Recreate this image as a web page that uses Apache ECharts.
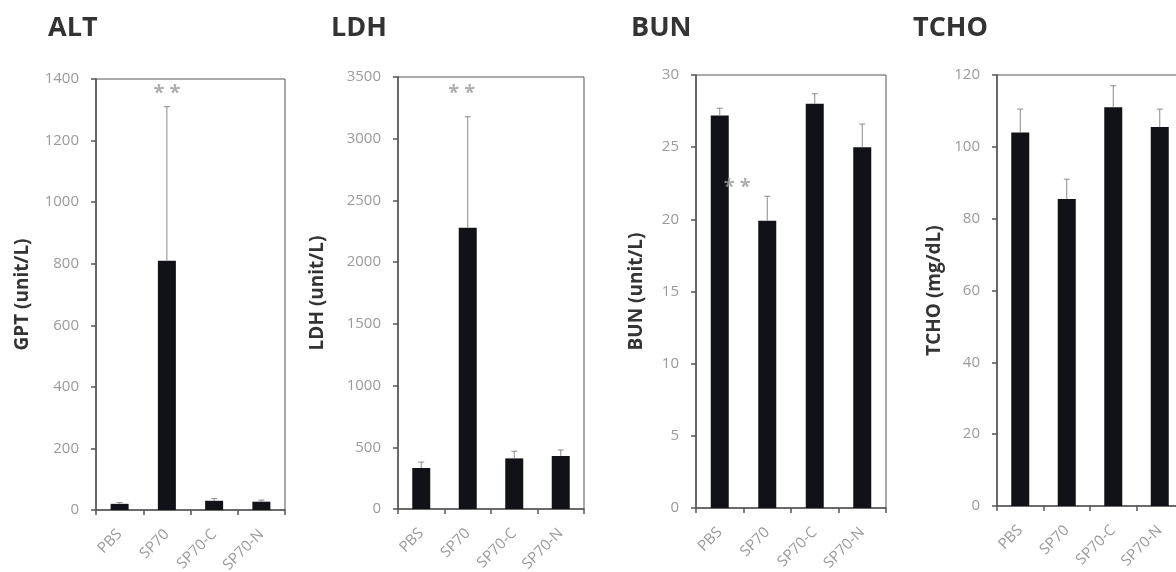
<!DOCTYPE html>
<html>
<head>
<meta charset="utf-8">
<script src="https://cdn.jsdelivr.net/npm/echarts@6/dist/echarts.min.js"></script>
<style>
html, body { margin: 0; padding: 0; background: #fff; }
#main { width: 1176px; height: 572px; }
</style>
</head>
<body>
<div id="main"></div>
<script>
// categories shared by all four panels
var categories = ['PBS', 'SP70', 'SP70-C', 'SP70-N'];

// ALT (GPT)
var altMean = [20, 810, 30, 27];
var altErr = [4, 500, 7, 5];
var altTicks = [0, 1400, 200];
// LDH
var ldhMean = [332, 2278, 410, 430];
var ldhErr = [48, 900, 58, 48];
var ldhTicks = [0, 3500, 500];
// BUN
var bunMean = [27.2, 19.9, 28.0, 25.0];
var bunErr = [0.5, 1.7, 0.7, 1.6];
var bunTicks = [0, 30, 5];
// TCHO
var tchoMean = [104, 85.5, 111, 105.5];
var tchoErr = [6.5, 5.5, 6, 5];
var tchoTicks = [0, 120, 20];

// significance marks: [category index, height]
var altStar = [1, 1355];
var ldhStar = [1, 3370];
var bunStar = [1, 22.2];

var titles = ['ALT', 'LDH', 'BUN', 'TCHO'];
var yNames = ['GPT (unit/L)', 'LDH (unit/L)', 'BUN (unit/L)', 'TCHO (mg/dL)'];

var panels = [
    {mean: altMean, err: altErr, ticks: altTicks, star: altStar,
     grid: {left: 96, top: 79, width: 189, height: 431}, titleLeft: 43, nameGap: 64, starOffset: [0, 0]},
    {mean: ldhMean, err: ldhErr, ticks: ldhTicks, star: ldhStar,
     grid: {left: 398, top: 77, width: 186, height: 432}, titleLeft: 326, nameGap: 71, starOffset: [-6, 0]},
    {mean: bunMean, err: bunErr, ticks: bunTicks, star: bunStar,
     grid: {left: 696, top: 75, width: 190, height: 433}, titleLeft: 626, nameGap: 50, starOffset: [-30, 0]},
    {mean: tchoMean, err: tchoErr, ticks: tchoTicks, star: null,
     grid: {left: 997, top: 75, width: 186, height: 431}, titleLeft: 908, nameGap: 53, starOffset: [0, 0]}
];

var FONT = '"Open Sans", "Noto Sans", sans-serif';
var BAR = '#111217';
var GRAY = '#9a9a9a';
var AXIS = '#555';

//误差线
function errorBar(params, api) {
    var x = api.value(0);
    var mean = api.value(1);
    var err = api.value(2);
    var top = api.coord([x, mean + err]);
    var base = api.coord([x, mean]);
    return {
        type: 'group',
        children: [
            {type: 'line', shape: {x1: top[0], y1: top[1], x2: base[0], y2: base[1]},
             style: {stroke: '#8a8a8a', lineWidth: 1}},
            {type: 'line', shape: {x1: top[0] - 3, y1: top[1], x2: top[0] + 3, y2: top[1]},
             style: {stroke: '#8a8a8a', lineWidth: 1}}
        ]
    };
}

var option = {
    backgroundColor: '#fff',
    animation: false,
    title: [],
    grid: [],
    xAxis: [],
    yAxis: [],
    series: []
};

panels.forEach(function (p, i) {
    option.title.push({
        text: titles[i],
        left: p.titleLeft,
        top: 10,
        textStyle: {fontFamily: FONT, fontSize: 27, fontWeight: 'bold', color: '#333'}
    });
    option.grid.push({
        left: p.grid.left, top: p.grid.top, width: p.grid.width, height: p.grid.height,
        outerBoundsMode: 'none',
        show: true, borderColor: AXIS, borderWidth: 1, backgroundColor: 'transparent'
    });
    option.xAxis.push({
        type: 'category',
        gridIndex: i,
        data: categories,
        axisLine: {lineStyle: {color: AXIS, width: 1.5}},
        axisTick: {show: true, length: 5, lineStyle: {color: AXIS, width: 1.5}},
        axisLabel: {rotate: 45, color: GRAY, fontFamily: FONT, fontSize: 15, margin: 22}
    });
    option.yAxis.push({
        type: 'value',
        gridIndex: i,
        min: p.ticks[0],
        max: p.ticks[1],
        interval: p.ticks[2],
        name: yNames[i],
        nameLocation: 'middle',
        nameGap: p.nameGap,
        nameTextStyle: {fontFamily: FONT, fontSize: 19, fontWeight: 'bold', color: '#333'},
        axisLine: {show: true, lineStyle: {color: AXIS, width: 1.5}},
        axisTick: {show: true, length: 5, lineStyle: {color: AXIS, width: 1.5}},
        axisLabel: {
            color: GRAY, fontFamily: FONT, fontSize: 15, margin: 17,
            formatter: function (v) { return String(v); }
        },
        splitLine: {show: false}
    });
    option.series.push({
        type: 'bar',
        xAxisIndex: i,
        yAxisIndex: i,
        data: p.mean,
        barWidth: 18,
        itemStyle: {color: BAR},
        z: 2
    });
    option.series.push({
        type: 'custom',
        xAxisIndex: i,
        yAxisIndex: i,
        renderItem: errorBar,
        data: p.mean.map(function (m, k) { return [k, m, p.err[k]]; }),
        z: 3
    });
    if (p.star) {
        option.series.push({
            type: 'scatter',
            xAxisIndex: i,
            yAxisIndex: i,
            symbolSize: 0,
            data: [p.star],
            label: {
                show: true,
                position: 'inside',
                offset: p.starOffset,
                formatter: '* *',
                color: GRAY,
                fontFamily: FONT,
                fontSize: 20,
                fontWeight: 'bold'
            },
            z: 4
        });
    }
});

var chart = echarts.init(document.getElementById('main'));
chart.setOption(option);
window.addEventListener('resize', function () {
    chart.resize();
});
</script>
</body>
</html>
